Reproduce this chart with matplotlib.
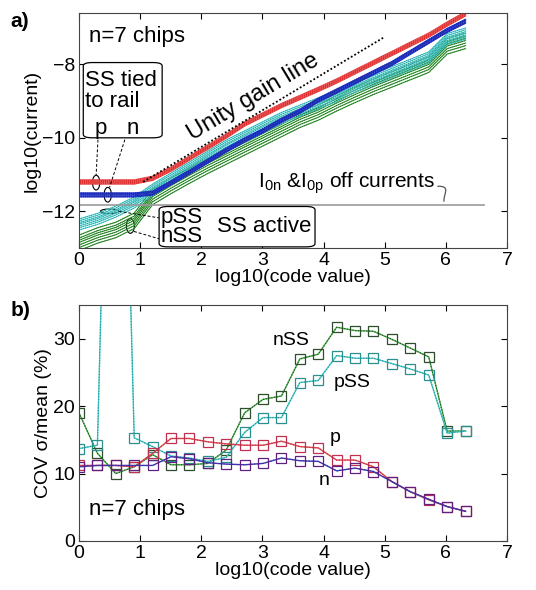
import numpy as np
import matplotlib
matplotlib.use("Agg")
import matplotlib.pyplot as plt
from matplotlib.patches import Ellipse, FancyBboxPatch, PathPatch
from matplotlib.path import Path

plt.rcParams['font.family'] = ['Liberation Sans', 'DejaVu Sans']

# log10 of the code values (codes 1, 2, 4, ... 2^21)
log_code = [0.0, 0.301, 0.602, 0.903, 1.204, 1.505, 1.806, 2.107, 2.408, 2.709, 3.010,
            3.311, 3.612, 3.913, 4.214, 4.515, 4.816, 5.118, 5.419, 5.720, 6.021, 6.322]

# panel a: mean log10(current) per configuration
cur_p = [-11.2, -11.2, -11.2, -11.2, -11.1, -10.85, -10.55, -10.25, -9.95, -9.62, -9.37,
         -9.12, -8.9, -8.68, -8.45, -8.2, -7.95, -7.7, -7.45, -7.2, -6.9, -6.62]
cur_n = [-11.55, -11.55, -11.55, -11.55, -11.5, -11.22, -10.93, -10.63, -10.33, -10.05, -9.8,
         -9.52, -9.27, -8.97, -8.72, -8.47, -8.22, -7.97, -7.67, -7.37, -7.07, -6.82]
cur_pss = [-12.35, -12.2, -12.0, -11.75, -11.4, -11.1, -10.8, -10.5, -10.2, -9.95, -9.7,
           -9.45, -9.25, -9.05, -8.85, -8.6, -8.4, -8.2, -8.0, -7.8, -7.3, -7.15]
cur_nss = [-12.85, -12.65, -12.5, -12.25, -11.6, -11.3, -11.02, -10.75, -10.5, -10.25, -10.0,
           -9.75, -9.5, -9.3, -9.05, -8.82, -8.6, -8.4, -8.2, -8.0, -7.5, -7.35]

# chip-to-chip offsets (decades) read from the spread of each bundle
chips_p = [-0.06, -0.04, -0.02, 0.0, 0.015, 0.035, 0.055]
chips_n = [-0.06, -0.045, -0.03, 0.0, 0.02, 0.035, 0.05]
chips_pss = [-0.16, -0.1, -0.05, 0.0, 0.04, 0.09, 0.14]
chips_nss = [-0.22, -0.14, -0.07, 0.0, 0.06, 0.12, 0.2]

unity_x = [1.05, 5.0]
unity_y = [-11.2, -7.25]
off_current = -11.84

# panel b: COV (%)
cov_nss = [19.0, 13.0, 10.0, 11.0, 12.8, 11.3, 11.3, 11.5, 13.5, 19.0, 21.0,
           21.5, 27.0, 27.7, 31.7, 31.2, 31.1, 29.9, 28.6, 27.3, 16.3, 16.3]
cov_pss = [13.7, 14.2, 120.0, 15.3, 14.0, 12.6, 12.3, 11.8, 12.4, 16.1, 18.3,
           18.3, 23.5, 23.8, 27.5, 27.1, 27.1, 26.3, 25.5, 24.6, 16.0, 16.3]
cov_p = [11.2, 11.2, 11.2, 11.0, 13.0, 15.2, 15.2, 14.7, 14.4, 14.2, 14.2,
         14.8, 14.0, 13.8, 12.0, 12.0, 11.0, 8.8, 7.3, 6.1, 5.1, 4.4]
cov_n = [11.0, 11.2, 11.2, 11.2, 11.2, 12.5, 12.2, 11.6, 11.4, 11.3, 11.5,
         12.3, 11.9, 11.8, 10.4, 10.8, 10.3, 8.8, 7.3, 6.2, 5.1, 4.4]

fig = plt.figure(figsize=(5.36, 5.9), dpi=100)
ax1 = fig.add_axes([0.1474, 0.5797, 0.7985, 0.3983])
ax2 = fig.add_axes([0.1474, 0.0831, 0.7985, 0.4])

x = np.array(log_code)
FS = 16

# ---- panel a ----
bundles = [
    (cur_nss, chips_nss, '#2f9a2f', '#1d5e1d'),
    (cur_pss, chips_pss, '#45cccc', '#1f8f8f'),
    (cur_n, chips_n, '#2436d0', '#16208a'),
    (cur_p, chips_p, '#e02a2a', '#f08080'),
]
for mean, offs, col, col2 in bundles:
    mean = np.array(mean)
    for off in offs:
        ax1.plot(x, mean + off, color=col, lw=0.8)
        ax1.plot(x, mean + off, color=col2, lw=0.6, ls=(0, (1, 1.5)))

ax1.plot(unity_x, unity_y, color='black', lw=1.3, ls=(0, (1, 1.2)))
ax1.plot([0, 6.62], [off_current, off_current], color='#999999', lw=1.2)

ax1.set_xlim(0, 7)
ax1.set_ylim(-13, -6.6)
ax1.set_xticks(range(8))
ax1.set_yticks([-12, -10, -8])
ax1.set_xlabel('log10(code value)', fontsize=14, labelpad=0)
ax1.set_ylabel('log10(current)', fontsize=14, labelpad=1)

ax1.text(0.17, -7.23, 'n=7 chips', fontsize=FS, va='center')
ax1.text(2.85, -8.9, 'Unity gain line', fontsize=17, rotation=31,
         ha='center', va='center')
ax1.text(2.93, -11.22, r'I$_{\mathregular{0n}}$ &I$_{\mathregular{0p}}$ off currents',
         fontsize=15, va='center', ha='left')

# squiggle from off-current label to the line
sq = Path([(5.86, -11.32), (6.1, -11.3), (5.95, -11.55), (5.97, -11.74)],
          [Path.MOVETO, Path.CURVE4, Path.CURVE4, Path.CURVE4])
ax1.add_patch(PathPatch(sq, fc='none', ec='#555555', lw=0.9))

# "SS tied to rail" box
ax1.add_patch(FancyBboxPatch((0.07, -10.0), 1.29, 2.05,
                             boxstyle='round,pad=0.0,rounding_size=0.15',
                             fc='white', ec='black', lw=0.9, zorder=5,
                             mutation_aspect=0.6))
ax1.text(0.09, -8.45, 'SS tied', fontsize=FS, va='center', zorder=6)
ax1.text(0.09, -9.0, 'to rail', fontsize=FS, va='center', zorder=6)
ax1.text(0.35, -9.75, 'p', fontsize=FS, va='center', ha='center', zorder=6)
ax1.text(0.88, -9.75, 'n', fontsize=FS, va='center', ha='center', zorder=6)

# "SS active" box
ax1.add_patch(FancyBboxPatch((1.31, -12.97), 2.55, 1.1,
                             boxstyle='round,pad=0.0,rounding_size=0.15',
                             fc='white', ec='black', lw=0.9, zorder=5,
                             mutation_aspect=0.6))
ax1.text(1.34, -12.16, 'pSS', fontsize=FS, va='center', zorder=6)
ax1.text(1.34, -12.68, 'nSS', fontsize=FS, va='center', zorder=6)
ax1.text(2.26, -12.42, 'SS active', fontsize=FS, va='center', zorder=6)

# ellipses marking the groups and their leader lines
for cx, cy, w, h in [(0.28, -11.22, 0.12, 0.4), (0.47, -11.55, 0.12, 0.4),
                     (0.5, -12.0, 0.3, 0.12), (0.84, -12.4, 0.13, 0.4)]:
    ax1.add_patch(Ellipse((cx, cy), w, h, fc='none', ec='black', lw=0.8))
for xs, ys in [([0.31, 0.28], [-10.05, -11.02]), ([0.75, 0.5], [-10.05, -11.35]),
               ([0.65, 1.31], [-12.0, -12.18]), ([0.9, 1.31], [-12.55, -12.75])]:
    ax1.plot(xs, ys, color='black', lw=0.7, ls=(0, (3, 2)))

# ---- panel b ----
cov_series = [
    (cov_nss, '#3fae3f', '#2d4d2d'),
    (cov_pss, '#45cccc', '#2a8f8f'),
    (cov_p, '#e04848', '#c03050'),
    (cov_n, '#3040c0', '#602080'),
]
for vals, col, edge in cov_series:
    ax2.plot(x, vals, color=col, lw=1.0, marker='s', ms=7, mfc='none',
             mec=edge, mew=0.9)
    ax2.plot(x, vals, color=edge, lw=0.8, ls=(0, (1, 1.5)))

ax2.set_xlim(0, 7)
ax2.set_ylim(0, 35)
ax2.set_xticks(range(8))
ax2.set_yticks([0, 10, 20, 30])
ax2.set_xlabel('log10(code value)', fontsize=14, labelpad=0)
ax2.set_ylabel('COV σ/mean (%)', fontsize=14, labelpad=1)

ax2.text(3.17, 29.8, 'nSS', fontsize=14, va='center')
ax2.text(4.16, 23.5, 'pSS', fontsize=14, va='center')
ax2.text(4.1, 15.4, 'p', fontsize=14, va='center')
ax2.text(3.92, 9.0, 'n', fontsize=14, va='center')
ax2.text(0.17, 4.6, 'n=7 chips', fontsize=FS, va='center')

for ax in (ax1, ax2):
    ax.tick_params(direction='in', top=True, right=True, labelsize=14, length=4,
                   pad=3)
    for sp in ax.spines.values():
        sp.set_color('#444444')
        sp.set_linewidth(0.8)

fig.text(0.02, 0.98, 'a)', fontsize=15, fontweight='bold', va='top')
fig.text(0.02, 0.49, 'b)', fontsize=15, fontweight='bold', va='top')

fig.savefig('out.png', dpi=100)
